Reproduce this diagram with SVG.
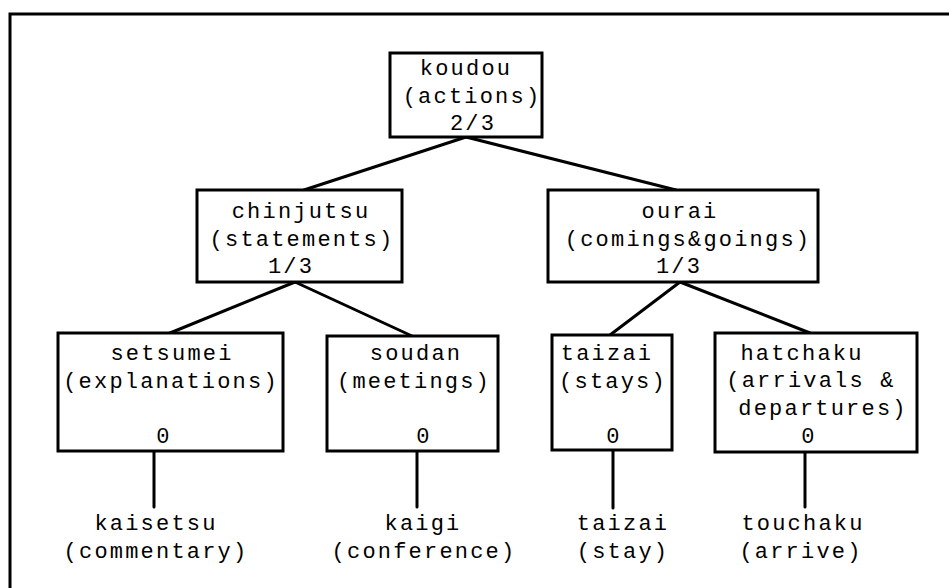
<svg xmlns="http://www.w3.org/2000/svg" width="949" height="588" viewBox="0 0 949 588">
  <style>
    .box { fill: #ffffff; stroke: #000000; stroke-width: 3; }
    .edge { stroke: #000000; stroke-width: 3; fill: none; stroke-linecap: round; }
    .frame { stroke: #000000; stroke-width: 3; fill: none; }
    text { font-family: "Liberation Mono", "Courier New", monospace; font-size: 22px; letter-spacing: 2.2px; fill: #000000; text-anchor: middle; }
  </style>
  <rect width="949" height="588" fill="#ffffff"/>

  <!-- outer frame (top and left edges only) -->
  <path class="frame" d="M10,588 V14 H949"/>

  <!-- connectors -->
  <g id="connectors">
    <line class="edge" x1="466" y1="137" x2="304" y2="190"/>
    <line class="edge" x1="466" y1="137" x2="676" y2="190"/>
    <line class="edge" x1="295" y1="282" x2="170" y2="333"/>
    <line class="edge" x1="295" y1="282" x2="412" y2="336"/>
    <line class="edge" x1="680" y1="282" x2="610" y2="335"/>
    <line class="edge" x1="680" y1="282" x2="810" y2="333"/>
    <line class="edge" x1="154" y1="451" x2="154" y2="507"/>
    <line class="edge" x1="417" y1="451" x2="417" y2="507"/>
    <line class="edge" x1="613" y1="450" x2="613" y2="508"/>
    <line class="edge" x1="805" y1="452" x2="805" y2="507"/>
  </g>

  <!-- level 0 -->
  <g id="koudou">
    <rect class="box" x="390" y="53" width="152" height="84"/>
    <text x="466" y="75">koudou</text>
    <text x="472" y="103">(actions)</text>
    <text x="473" y="130">2/3</text>
  </g>

  <!-- level 1 -->
  <g id="chinjutsu">
    <rect class="box" x="197" y="190" width="205" height="92"/>
    <text x="301" y="218">chinjutsu</text>
    <text x="302" y="246">(statements)</text>
    <text x="291" y="273">1/3</text>
  </g>
  <g id="ourai">
    <rect class="box" x="548" y="190" width="270" height="92"/>
    <text x="680" y="218">ourai</text>
    <text x="688" y="246">(comings&amp;goings)</text>
    <text x="679" y="273">1/3</text>
  </g>

  <!-- level 2 -->
  <g id="setsumei">
    <rect class="box" x="58" y="333" width="225" height="118"/>
    <text x="172" y="360">setsumei</text>
    <text x="171" y="388">(explanations)</text>
    <text x="164" y="443">0</text>
  </g>
  <g id="soudan">
    <rect class="box" x="327" y="336" width="171" height="115"/>
    <text x="416" y="360">soudan</text>
    <text x="414" y="388">(meetings)</text>
    <text x="424" y="443">0</text>
  </g>
  <g id="taizai">
    <rect class="box" x="552" y="335" width="120" height="115"/>
    <text x="607" y="360">taizai</text>
    <text x="613" y="388">(stays)</text>
    <text x="614" y="443">0</text>
  </g>
  <g id="hatchaku">
    <rect class="box" x="715" y="333" width="202" height="119"/>
    <text x="802" y="360">hatchaku</text>
    <text x="811" y="387">(arrivals &amp;</text>
    <text x="823" y="415">departures)</text>
    <text x="809" y="443">0</text>
  </g>

  <!-- leaf words -->
  <g id="kaisetsu">
    <text x="156" y="530">kaisetsu</text>
    <text x="156" y="558">(commentary)</text>
  </g>
  <g id="kaigi">
    <text x="423" y="530">kaigi</text>
    <text x="424" y="558">(conference)</text>
  </g>
  <g id="taizai-leaf">
    <text x="623" y="530">taizai</text>
    <text x="623" y="558">(stay)</text>
  </g>
  <g id="touchaku">
    <text x="803" y="530">touchaku</text>
    <text x="801" y="558">(arrive)</text>
  </g>
</svg>
